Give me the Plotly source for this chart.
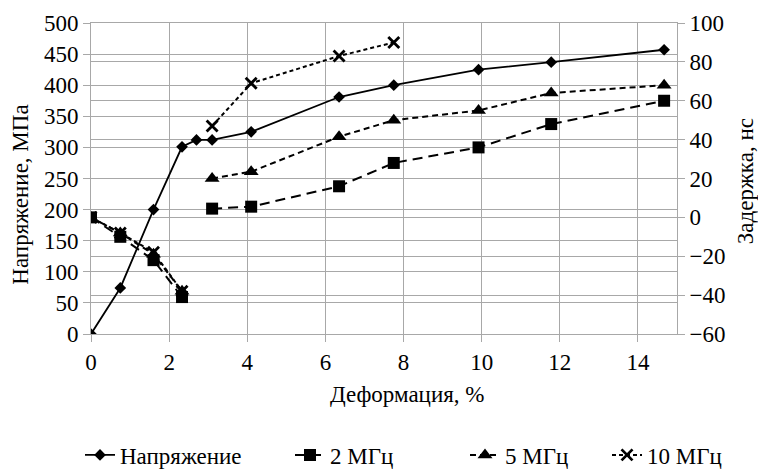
import plotly.graph_objects as go

# Deformation, %
strain = [0, 0.75, 1.6, 2.33, 2.7, 3.1, 4.1, 6.35, 7.75, 9.92, 11.78, 14.67]
# Stress, MPa (left axis)
stress = [0, 74, 200, 301, 312, 312, 325, 381, 400, 425, 437, 457]

# Delay, ns (right axis); None = gap in the line
strain_2 = [0, 0.75, 1.6, 2.33, None, 3.1, 4.1, 6.35, 7.75, 9.92, 11.78, 14.67]
delay_2 = [0, -10, -22, -41, None, 4.5, 5.5, 16, 28, 36, 48, 60]

strain_5 = [0, 0.75, 1.6, 2.33, None, 3.1, 4.1, 6.35, 7.75, 9.92, 11.78, 14.67]
delay_5 = [0, -8, -19, -38, None, 20, 23.5, 41.5, 50, 55, 64, 68]

strain_10 = [0, 0.75, 1.6, 2.33, None, 3.1, 4.1, 6.35, 7.75]
delay_10 = [0, -8, -18, -38, None, 47, 69, 83, 90]

names = ["Напряжение", "2 МГц", "5 МГц", "10 МГц"]
x_ticks = [0, 2, 4, 6, 8, 10, 12, 14]

FONT = "Liberation Serif"
FS = 23
GRID = "#a8a8a8"

fig = go.Figure()
fig.add_trace(go.Scatter(
    x=strain, y=stress, name=names[0], mode="lines+markers", legend="legend",
    line=dict(color="black", width=1.8),
    marker=dict(symbol="diamond", size=9, color="black"),
))
fig.add_trace(go.Scatter(
    x=strain_2, y=delay_2, name=names[1], mode="lines+markers", yaxis="y2",
    legend="legend2",
    line=dict(color="black", width=2, dash="10px,6px"),
    marker=dict(symbol="square", size=12, color="black"),
))
fig.add_trace(go.Scatter(
    x=strain_5, y=delay_5, name=names[2], mode="lines+markers", yaxis="y2",
    legend="legend3",
    line=dict(color="black", width=2, dash="6px,4px"),
    marker=dict(symbol="triangle-up", size=13, color="black"),
))
fig.add_trace(go.Scatter(
    x=strain_10, y=delay_10, name=names[3], mode="lines+markers", yaxis="y2",
    legend="legend4",
    line=dict(color="black", width=2, dash="4px,3px"),
    marker=dict(symbol="x-thin", size=11, color="black",
                line=dict(color="black", width=2.8)),
))

axis_common = dict(
    showgrid=True, gridcolor=GRID, gridwidth=1,
    ticks="outside", ticklen=7, tickcolor=GRID, tickwidth=1,
    tickfont=dict(family=FONT, size=FS, color="black"),
    zeroline=False, automargin=False,
)


def leg(xpx):
    return dict(orientation="h", xref="container", yref="container",
                x=xpx / 758, xanchor="left", y=0.03, yanchor="middle",
                font=dict(family=FONT, size=FS, color="black"),
                bgcolor="rgba(0,0,0,0)")


fig.update_layout(
    width=758, height=469,
    margin=dict(l=90.5, r=81, t=23, b=135, autoexpand=False),
    paper_bgcolor="white", plot_bgcolor="white",
    font=dict(family=FONT, size=FS, color="black"),
    xaxis=dict(range=[0, 15], tickvals=x_ticks, showline=True, linecolor=GRID,
               mirror=True, **axis_common),
    yaxis=dict(range=[0, 500], dtick=50, showline=True, linecolor=GRID,
               **axis_common),
    yaxis2=dict(range=[-60, 100], dtick=20, overlaying="y", side="right",
                showline=True, linecolor=GRID, **axis_common),
    showlegend=True,
    legend=leg(80), legend2=leg(290), legend3=leg(465), legend4=leg(607),
    annotations=[
        dict(text="Деформация, %", xref="paper", yref="paper", x=0.54,
             y=-0.193, xanchor="center", yanchor="middle", showarrow=False,
             font=dict(family=FONT, size=FS)),
        dict(text="Напряжение, МПа", xref="paper", yref="paper",
             x=-0.12, xanchor="center", y=0.447, yanchor="middle",
             textangle=-90, showarrow=False, font=dict(family=FONT, size=FS)),
        dict(text="Задержка, нс", xref="paper", yref="paper",
             x=1.117, xanchor="center", y=0.49, yanchor="middle",
             textangle=-90, showarrow=False, font=dict(family=FONT, size=FS)),
    ],
)

fig.write_html("out.html", config={"displayModeBar": False},
               post_script="document.body.style.margin='0';")
